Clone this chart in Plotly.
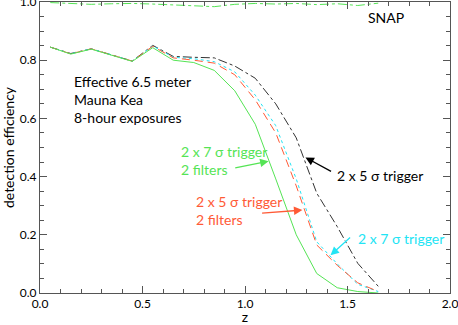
import plotly.graph_objects as go

# redshift bins
z = [0.05, 0.15, 0.25, 0.35, 0.45, 0.55, 0.65, 0.75, 0.85,
     0.95, 1.05, 1.15, 1.25, 1.35, 1.45, 1.55, 1.65]

eff_5sig = [0.845, 0.823, 0.839, 0.818, 0.797, 0.851, 0.813, 0.810, 0.808,
            0.780, 0.738, 0.650, 0.533, 0.343, 0.228, 0.102, 0.023]
eff_7sig = [0.845, 0.822, 0.839, 0.818, 0.797, 0.849, 0.810, 0.805, 0.795,
            0.760, 0.680, 0.575, 0.392, 0.176, 0.100, 0.030, 0.005]
eff_5sig_2f = [0.845, 0.822, 0.839, 0.818, 0.797, 0.848, 0.808, 0.800, 0.790,
               0.750, 0.664, 0.550, 0.368, 0.165, 0.095, 0.035, 0.005]
eff_7sig_2f = [0.845, 0.821, 0.838, 0.817, 0.796, 0.843, 0.800, 0.792, 0.765,
               0.695, 0.580, 0.392, 0.200, 0.067, 0.018, 0.005, 0.000]
eff_snap = [0.998, 0.996, 0.992, 0.994, 0.995, 0.993, 0.990, 0.989, 0.984,
            0.992, 0.995, 0.993, 0.995, 0.991, 0.994, 0.988, 0.996]

black = '#333333'
red = '#ff5a36'
cyan = '#22e4f4'
green = '#55e455'

fig = go.Figure()
fig.add_trace(go.Scatter(x=z, y=eff_snap, mode='lines',
                         line=dict(color=green, width=1, dash='dashdot')))
fig.add_trace(go.Scatter(x=z, y=eff_5sig, mode='lines',
                         line=dict(color=black, width=1, dash='dashdot')))
fig.add_trace(go.Scatter(x=z, y=eff_7sig, mode='lines',
                         line=dict(color=cyan, width=1, dash='dot')))
fig.add_trace(go.Scatter(x=z, y=eff_5sig_2f, mode='lines',
                         line=dict(color=red, width=1, dash='8px,5px')))
fig.add_trace(go.Scatter(x=z, y=eff_7sig_2f, mode='lines',
                         line=dict(color=green, width=1)))

font = dict(family='Lato, Open Sans, sans-serif', size=14)


def label(x, y, text, color):
    fig.add_annotation(x=x, y=y, text=text, showarrow=False, xanchor='left',
                       align='left', font=dict(font, color=color))


def arrow(x0, y0, x1, y1, color):
    fig.add_annotation(x=x1, y=y1, ax=x0, ay=y0, axref='x', ayref='y',
                       text='', showarrow=True, arrowhead=2, arrowsize=1.3,
                       arrowwidth=1.3, arrowcolor=color)


label(0.155, 0.665, 'Effective 6.5 meter<br>Mauna Kea<br>8-hour exposures', 'black')
label(1.59, 0.946, 'SNAP', 'black')
label(0.68, 0.454, '2 x 7 σ trigger<br>2 filters', green)
arrow(0.945, 0.429, 1.115, 0.453, green)
label(1.44, 0.403, '2 x 5 σ trigger', 'black')
arrow(1.427, 0.415, 1.295, 0.466, 'black')
label(0.75, 0.283, '2 x 5 σ trigger<br>2 filters', red)
arrow(1.076, 0.274, 1.280, 0.285, red)
label(1.54, 0.189, '2 x 7 σ trigger', cyan)
arrow(1.52, 0.195, 1.417, 0.130, cyan)

axis = dict(showline=True, linecolor='#555555', linewidth=1, mirror='ticks',
            ticks='inside', tickcolor='#555555', ticklen=7, showgrid=False,
            zeroline=False, automargin=False, ticklabeloverflow='allow',
            tickfont=dict(family='Lato, sans-serif', size=12, color='black'))

fig.update_xaxes(axis, range=[0, 2], dtick=0.5, tickformat='.1f',
                 title=dict(text='z', standoff=0, font=dict(size=14)),
                 minor=dict(ticks='inside', dtick=0.1, ticklen=4, tickcolor='#555555'))
fig.update_yaxes(axis, range=[0, 1], dtick=0.2, tickformat='.1f',
                 title=dict(text='detection efficiency', standoff=4, font=dict(size=14)),
                 minor=dict(ticks='inside', dtick=0.05, ticklen=4, tickcolor='#555555'))

fig.update_layout(
    width=458, height=325,
    margin=dict(l=40, r=8, t=2, b=32),
    plot_bgcolor='white', paper_bgcolor='white',
    showlegend=False,
    font=dict(family='Lato, sans-serif', size=13, color='black'),
)

# drop the default page margin so the figure sits at the window's corner
fig.write_html("out.html", config={'displayModeBar': False},
               post_script="document.body.style.margin='0';")
